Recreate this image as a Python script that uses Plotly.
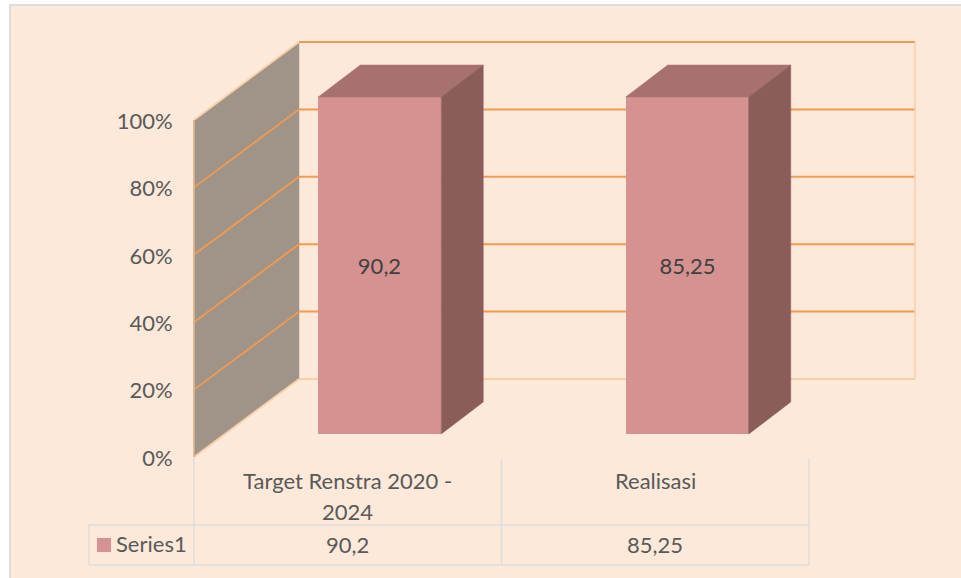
import plotly.graph_objects as go

# ---- data ----
categories = ["Target Renstra 2020 - 2024", "Realisasi"]
category_lines = [["Target Renstra 2020 -", "2024"], ["Realisasi"]]
series_name = "Series1"
series_values = [90.2, 85.25]
y_ticks = [0, 20, 40, 60, 80, 100]
y_tick_labels = ["0%", "20%", "40%", "60%", "80%", "100%"]

# ---- palette / layout ----
BG = "#FDE9D9"
GRID = "#F29A50"
EDGE = "#F8CFA8"
TABLE = "#DCDCDC"
WALL = "#A09488"
FRONT = "#D59290"
TOP = "#A6716F"
SIDE = "#8B5D5A"
TEXT = "#595959"
FONT = "Lato"
FS = 22
W, H = 961, 578
X0, Y0 = 194.0, 457.0
CAT_PX = 307.5
PCT_PX = 3.37


def fx(p):
    return (p - X0) / CAT_PX


def fy(p):
    return (Y0 - p) / PCT_PX


back_dx, back_dy = 105 / CAT_PX, 78 / PCT_PX
bar_dx, bar_dy = 42 / CAT_PX, 32 / PCT_PX
shift_x, base_y = 32 / CAT_PX, 23 / PCT_PX
bar_w = 123 / CAT_PX
x_end = fx(915)

shares = [v / v * 100 for v in series_values]  # 100% stacked: one series fills each column
centers = [i + 0.5 + shift_x for i in range(len(categories))]
labels = [str(v).replace(".", ",") for v in series_values]

fig = go.Figure()


def line(xs, ys, color, width=2.0):
    fig.add_trace(go.Scatter(x=xs, y=ys, mode="lines", line=dict(color=color, width=width),
                             hoverinfo="skip", showlegend=False))


def poly(xs, ys, color, over=False):
    fig.add_trace(go.Scatter(x=xs, y=ys, mode="lines", fill="toself", fillcolor=color,
                             line=dict(color=color, width=0.5), hoverinfo="skip", showlegend=False,
                             xaxis="x2" if over else "x", yaxis="y2" if over else "y"))


# side wall
poly([0, back_dx, back_dx, 0, 0], [0, back_dy, 100 + back_dy, 100, 0], WALL)

# back wall & grid
for t in y_ticks:
    col = EDGE if t == 0 else GRID
    line([back_dx, x_end], [t + back_dy, t + back_dy], col)
    slant = EDGE if t in (0, 100) else GRID
    line([0, back_dx], [t, t + back_dy], slant, 1.8)
line([x_end, x_end], [back_dy, 100 + back_dy], EDGE, 1.5)
line([0, 0], [0, 100], "#E0B48C", 1.5)

# data table lines
n = len(categories)
table_y0, table_y1, table_top = fy(525), fy(565), 0
for i in range(n + 1):
    line([i, i], [table_y1, table_top if i == 0 else fy(459)], TABLE, 1.5)
for yy in (table_y0, table_y1):
    line([fx(89), n], [yy, yy], TABLE, 1.5)
line([fx(89), fx(89)], [table_y0, table_y1], TABLE, 1.5)

# legend key
fig.add_trace(go.Scatter(x=[fx(104)], y=[fy(545)], mode="markers",
                         marker=dict(symbol="square", size=14, color=FRONT, line=dict(width=0)),
                         hoverinfo="skip", showlegend=False))

# bar tops and sides
for c, s in zip(centers, shares):
    l, r = c - bar_w / 2, c + bar_w / 2
    t = base_y + s
    poly([l, r, r + bar_dx, l + bar_dx, l], [t, t, t + bar_dy, t + bar_dy, t], TOP, True)
    poly([r, r + bar_dx, r + bar_dx, r, r], [base_y, base_y + bar_dy, t + bar_dy, t, base_y], SIDE, True)

# bar fronts
fig.add_trace(go.Bar(x=centers, y=shares, base=base_y, width=bar_w, name=series_name,
                     xaxis="x2", yaxis="y2",
                     marker=dict(color=FRONT, line=dict(width=0)),
                     text=labels, textposition="inside", insidetextanchor="middle", textangle=0,
                     constraintext="none",
                     textfont=dict(family=FONT, size=FS, color="#404040"), showlegend=False))

ann = []
txt = dict(family=FONT, size=FS, color=TEXT)
for i, ls in enumerate(category_lines):
    for j, s in enumerate(ls):
        ann.append(dict(x=i + 0.5, y=fy(480 + 31 * j), text=s, showarrow=False, font=txt,
                        xanchor="center", yanchor="middle"))
    ann.append(dict(x=i + 0.5, y=fy(544), text=labels[i], showarrow=False, font=txt,
                    xanchor="center", yanchor="middle"))
ann.append(dict(x=fx(116), y=fy(543), text=series_name, showarrow=False, font=txt,
                xanchor="left", yanchor="middle", xshift=-2))

xr, yr = [fx(0), fx(W)], [fy(H), fy(0)]
fig.update_layout(
    width=W, height=H, autosize=False,
    margin=dict(l=0, r=0, t=0, b=0, pad=0),
    paper_bgcolor="white", plot_bgcolor="rgba(0,0,0,0)",
    bargap=0, showlegend=False, annotations=ann,
    shapes=[dict(type="rect", xref="paper", yref="paper", x0=10 / W, x1=1.01, y0=-0.01, y1=1 - 5 / H,
                 fillcolor=BG, line=dict(color=TABLE, width=2), layer="below")],
    xaxis=dict(range=xr, visible=False, fixedrange=True),
    yaxis=dict(range=yr, anchor="free", position=X0 / W, tickmode="array", tickvals=y_ticks,
               ticktext=y_tick_labels, showgrid=False, zeroline=False, showline=False,
               ticks="outside", ticklen=17, tickcolor="rgba(0,0,0,0)", ticklabelshift=1,
               tickfont=dict(family=FONT, size=FS, color=TEXT), fixedrange=True),
    xaxis2=dict(range=xr, visible=False, overlaying="x", fixedrange=True),
    yaxis2=dict(range=yr, visible=False, overlaying="y", fixedrange=True),
)
fig.write_html("out.html", config=dict(displayModeBar=False),
               post_script="document.body.style.margin='0';document.documentElement.style.overflow='hidden';")
